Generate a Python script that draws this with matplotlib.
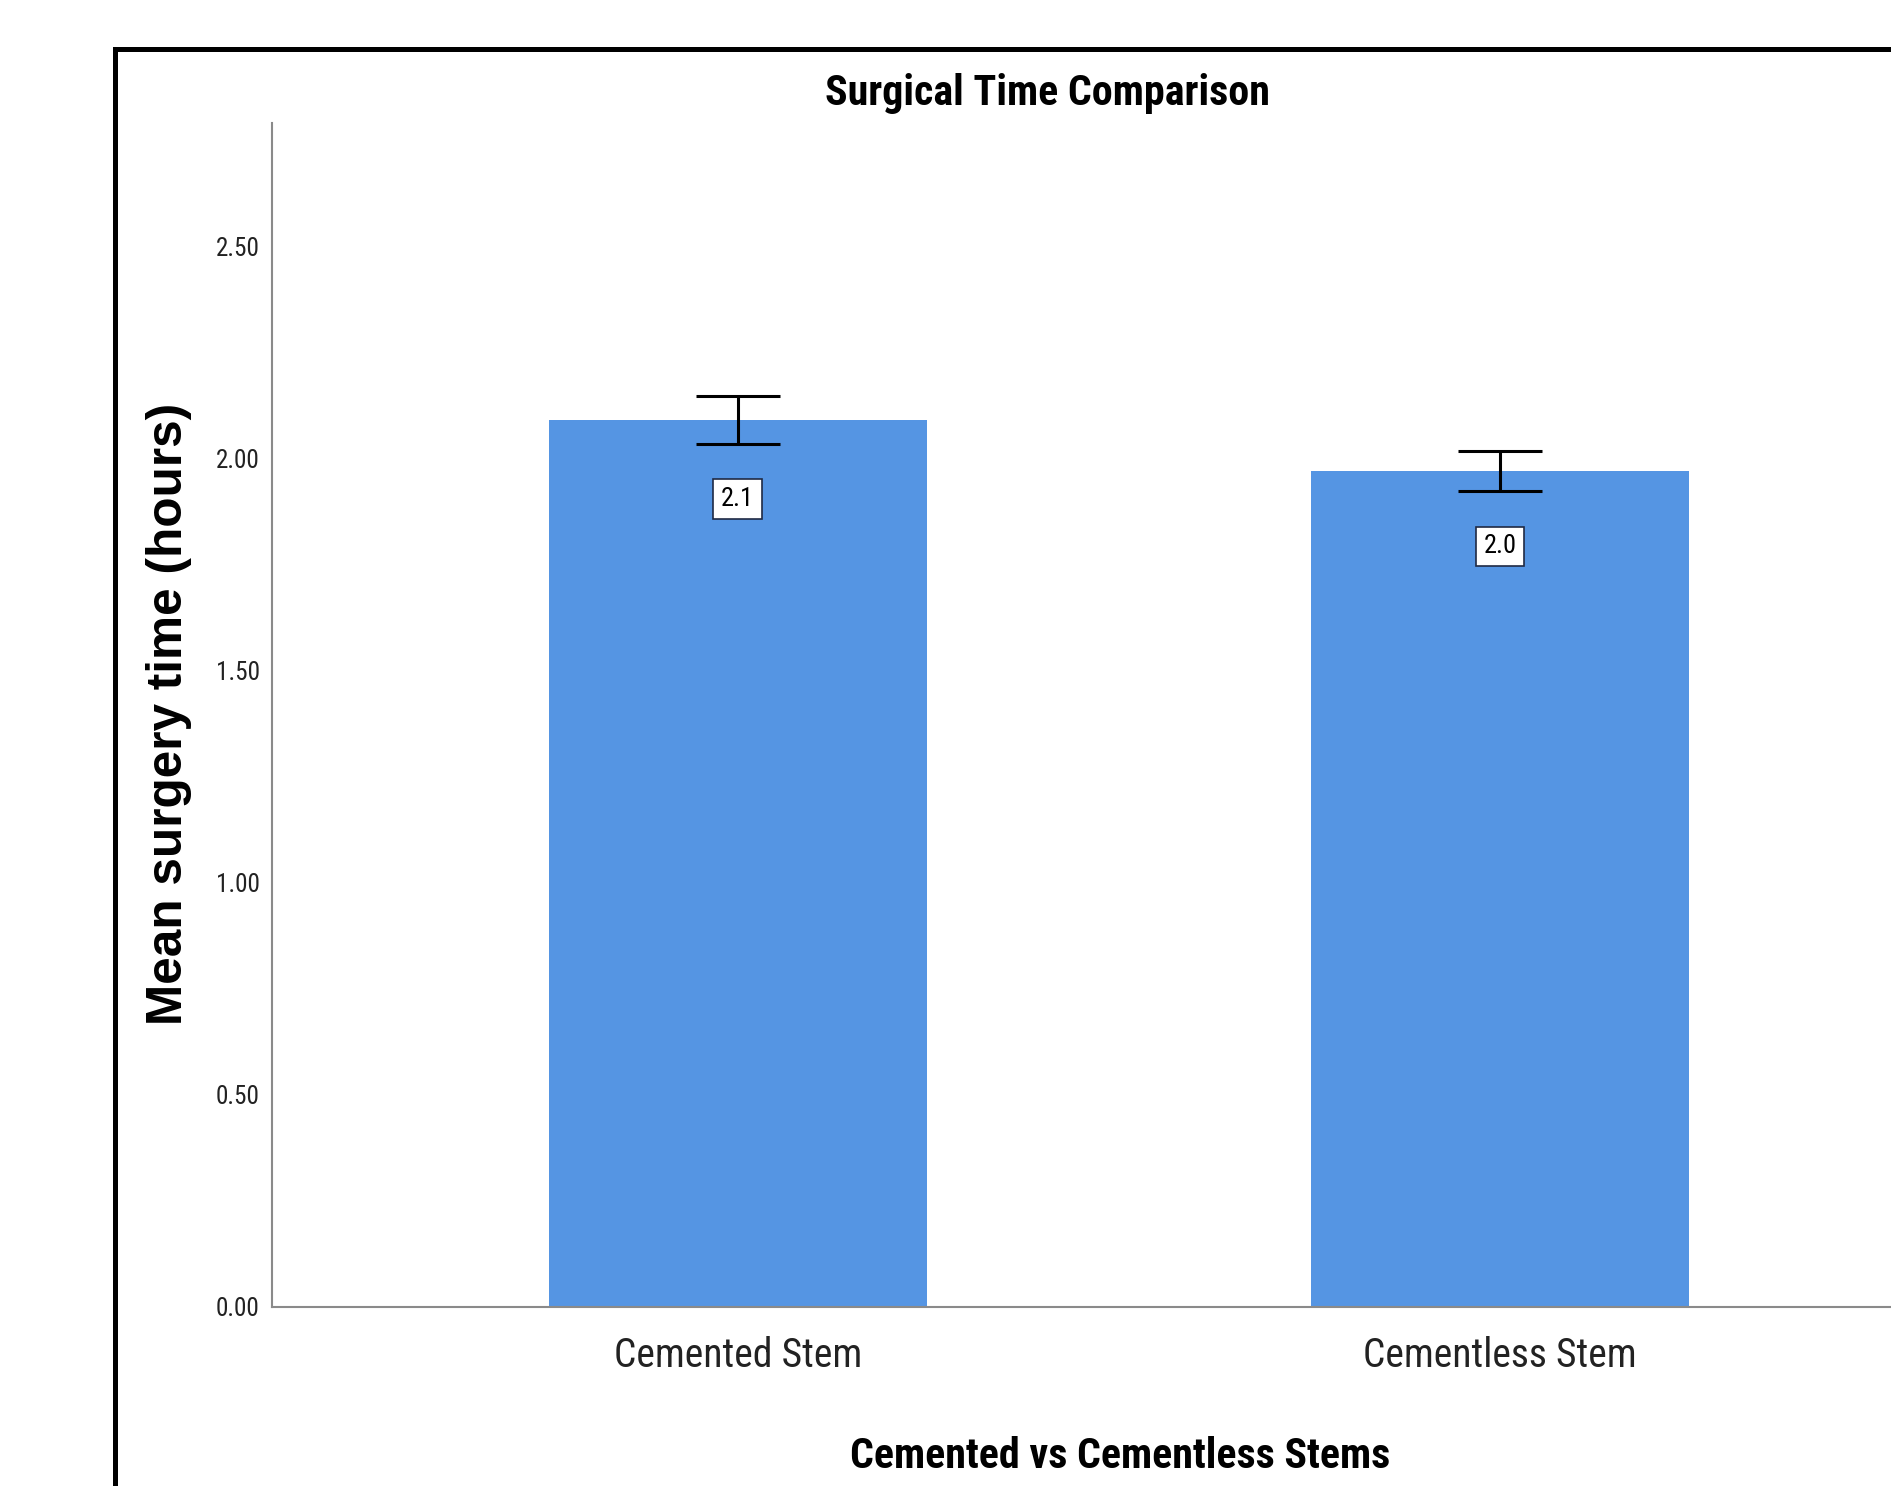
import matplotlib
matplotlib.use('Agg')
import matplotlib.pyplot as plt
from matplotlib import font_manager
from matplotlib.font_manager import FontProperties
from matplotlib.patches import Rectangle

# Данные с графика
categories = ['Cemented Stem', 'Cementless Stem']
means = [2.09, 1.97]
errors = [0.056, 0.047]
yticks = [0.0, 0.5, 1.0, 1.5, 2.0, 2.5]

WEIGHTS = {'normal': 400, 'regular': 400, 'book': 400, 'medium': 500, 'semibold': 600,
           'demibold': 600, 'bold': 700, 'heavy': 800, 'extra bold': 800, 'black': 900}


def find_narrow(bold):
    # ищем узкий прямой шрифт (аналог Arial Narrow)
    prefer = ['liberation', 'roboto', 'noto', 'dejavu', 'open']
    best, best_rank = None, 99
    for f in font_manager.fontManager.ttflist:
        desc = (f.name + ' ' + str(f.stretch) + ' ' + f.fname).lower()
        if 'narrow' not in desc and 'condensed' not in desc:
            continue
        if f.style != 'normal' or 'italic' in f.fname.lower() or 'mono' in desc:
            continue
        if 'semicondensed' in desc.replace('-', '') or 'extracondensed' in desc.replace('-', ''):
            continue
        w = f.weight if isinstance(f.weight, int) else WEIGHTS.get(str(f.weight).lower(), 400)
        if (bold and w != 700) or (not bold and w != 400):
            continue
        rank = next((i for i, p in enumerate(prefer) if p in desc), 50)
        if rank < best_rank:
            best, best_rank = f, rank
    if best is None:
        return FontProperties(family='Liberation Sans', weight='bold' if bold else 'normal')
    return FontProperties(fname=best.fname)


fp_reg = find_narrow(False)
fp_bold = find_narrow(True)
fp_ylab = FontProperties(family='Liberation Sans', weight='bold')

fig = plt.figure(figsize=(18.91, 14.86), dpi=100)
ax = fig.add_axes([272 / 1891, 179 / 1486, 1 - 272 / 1891, (1363 - 179) / 1486])

x = list(range(len(categories)))
ax.bar(x, means, width=0.496, color='#5595E3', zorder=2)
ax.errorbar(x, means, yerr=errors, fmt='none', ecolor='black',
            elinewidth=2.2, capsize=30, capthick=2.2, zorder=3)

# Подписи значений в рамках
labels = []
for xi, m, e in zip(x, means, errors):
    t = ax.annotate(f'{m:.1f}', xy=(xi, m - e), xytext=(0, -40), textcoords='offset points',
                    ha='center', va='center', fontproperties=fp_reg, zorder=4,
                    bbox=dict(boxstyle='square,pad=0.3', fc='white', ec='#1f2a44', lw=1.2))
    labels.append(t)

ax.set_xlim(-0.611, 1.513)
ax.set_ylim(0, 2.79)
ax.set_yticks(yticks)
ax.set_yticklabels([f'{t:.2f}' for t in yticks], fontproperties=fp_reg, color='#222222')
ax.set_xticks(x)
ax.set_xticklabels(categories, fontproperties=fp_reg, color='#222222')
ax.tick_params(axis='y', length=0, pad=9)
ax.tick_params(axis='x', length=0, pad=21)

for s in ['top', 'right']:
    ax.spines[s].set_visible(False)
for s in ['left', 'bottom']:
    ax.spines[s].set_color('#8a8a8a')
    ax.spines[s].set_linewidth(1.5)

title = fig.text(1047 / 1891, 1 - 94 / 1486, 'Surgical Time Comparison', ha='center', va='center',
                 fontproperties=fp_bold)
xlab = fig.text(1120 / 1891, 1 - 1456 / 1486, 'Cemented vs Cementless Stems', ha='center', va='center',
                fontproperties=fp_bold)
ylab = fig.text(169 / 1891, 1 - 714 / 1486, 'Mean surgery time (hours)', ha='center', va='center',
                rotation=90, fontproperties=fp_ylab)

# Подгоняем размеры шрифтов под ширину надписей на оригинале (в пикселях)
r = fig.canvas.get_renderer()


def fit(txt, target, vertical=False):
    txt.set_fontsize(20)
    bb = txt.get_window_extent(r)
    size = bb.height if vertical else bb.width
    return 20 * target / size


title.set_fontsize(fit(title, 443))
xlab.set_fontsize(fit(xlab, 539))
ylab.set_fontsize(fit(ylab, 621, vertical=True))
xt = ax.get_xticklabels()
xs = (fit(xt[0], 251) + fit(xt[1], 271)) / 2
for t in xt:
    t.set_fontsize(xs)
yt = ax.get_yticklabels()
ys = fit(yt[-1], 44)
for t in yt:
    t.set_fontsize(ys)
ls = fit(labels[0], 33)
for t in labels:
    t.set_fontsize(ls)

# Чёрная рамка вокруг всего графика
fig.add_artist(Rectangle((115 / 1891, -0.1), 2, 1 - 48.5 / 1486 + 0.1, transform=fig.transFigure,
                         fill=False, ec='black', lw=3.6))

fig.savefig('out.png', dpi=100)
